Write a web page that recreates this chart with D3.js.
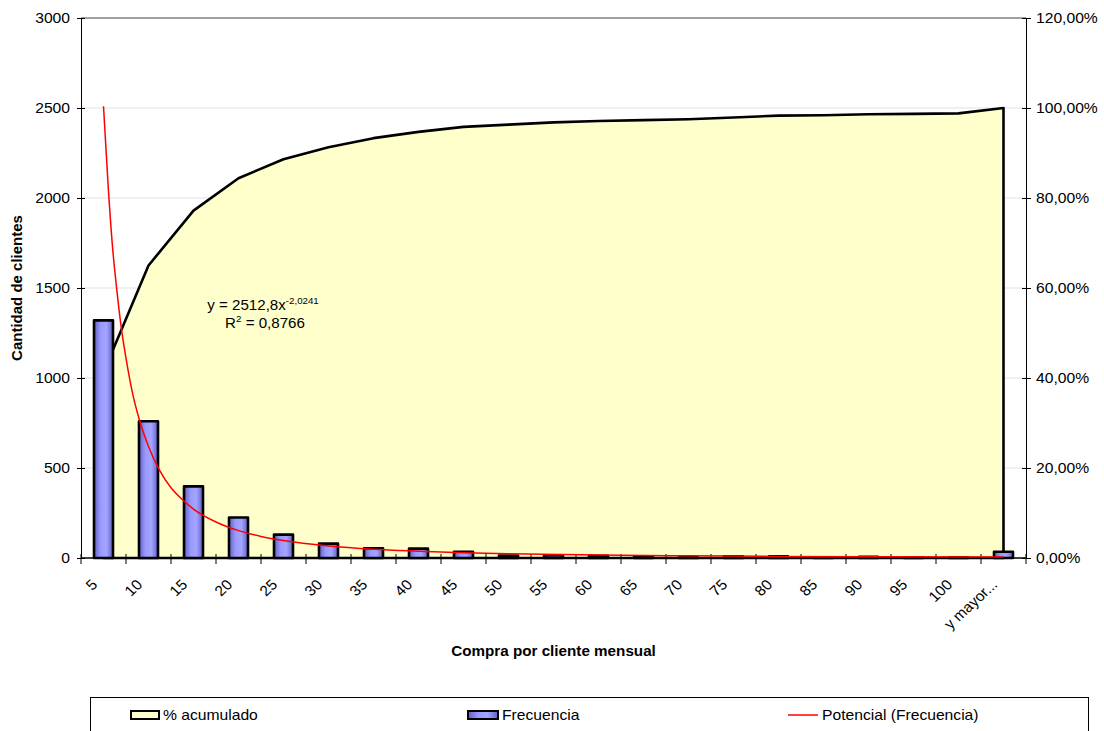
<!DOCTYPE html>
<html>
<head>
<meta charset="utf-8">
<script src="https://cdn.jsdelivr.net/npm/d3@7"></script>
<style>
body { margin: 0; background: #fff; }
svg text { font-family: "Liberation Sans", Arial, sans-serif; fill: #000; }
</style>
</head>
<body>
<div id="chart"></div>
<script>

// Data
const categories = ["5", "10", "15", "20", "25", "30", "35", "40", "45", "50",
  "55", "60", "65", "70", "75", "80", "85", "90", "95", "100", "y mayor..."];
const frecuencia = [1320, 760, 398, 225, 130, 80, 54, 52, 35, 14,
  15, 12, 5, 4, 10, 9, 3, 6, 3, 4, 35];
// % acumulado (right axis, percent)
const acumulado = [41.3, 65.0, 77.2, 84.4, 88.6, 91.3, 93.3, 94.7, 95.8, 96.3,
  96.8, 97.1, 97.3, 97.5, 97.9, 98.3, 98.4, 98.6, 98.7, 98.8, 100];
// Potencial (Frecuencia) trend line, position in category units / value
const trendPos = [1, 1.1, 1.2, 1.3, 1.4, 1.5, 1.65, 1.8, 2, 2.25, 2.5, 2.75, 3,
  3.5, 4, 4.5, 5, 6, 7, 8, 9, 10, 12, 14, 16, 18, 21];
const trendVal = [2510, 2080, 1730, 1480, 1270, 1110, 910, 765, 620, 485, 390, 325, 272,
  200, 152, 120, 97, 67, 49, 38, 29, 24, 16, 12, 9, 7, 5];
const leftTicks = [0, 500, 1000, 1500, 2000, 2500, 3000];
const rightTicks = [0, 20, 40, 60, 80, 100, 120];

const equationMain = "y = 2512,8x";
const equationExp = "-2,0241";
const r2Text = " = 0,8766";

// Dimensions
const width = 1104;
const height = 731;
const margin = {left: 81, right: 78, top: 18, bottom: 173};
const fs = 14.5;      // font size
const sx = 1.08;      // horizontal stretch of the text in the picture

const svg = d3.select("#chart")
  .append("svg")
  .attr("width", width)
  .attr("height", height);

svg.append("rect").attr("width", width).attr("height", height).attr("fill", "#fff");

// Bar gradient
const grad = svg.append("defs").append("linearGradient")
  .attr("id", "barGrad")
  .attr("x1", "0%").attr("x2", "100%").attr("y1", "0%").attr("y2", "0%");
grad.append("stop").attr("offset", "0%").attr("stop-color", "#5f5fc4");
grad.append("stop").attr("offset", "35%").attr("stop-color", "#9a9aff");
grad.append("stop").attr("offset", "65%").attr("stop-color", "#a4a4ff");
grad.append("stop").attr("offset", "100%").attr("stop-color", "#5f5fc4");

/*
  Scales
*/
const xScale = d3.scaleBand()
  .domain(categories)
  .range([margin.left, width - margin.right])
  .padding(0);
const bw = xScale.bandwidth();
const cx = (c) => xScale(c) + bw / 2;

const yLeft = d3.scaleLinear()
  .domain([0, 3000])
  .range([height - margin.bottom, margin.top]);

const yRight = d3.scaleLinear()
  .domain([0, 120])
  .range([height - margin.bottom, margin.top]);

// category position (1..n) -> pixel, for the trend line
const xPos = d3.scaleLinear()
  .domain([1, categories.length])
  .range([cx(categories[0]), cx(categories[categories.length - 1])]);

/*
  Gridlines
*/
svg.append("g")
  .selectAll("line")
  .data(leftTicks.filter(d => d > 0))
  .enter()
  .append("line")
  .attr("x1", margin.left)
  .attr("x2", width - margin.right)
  .attr("y1", d => yLeft(d))
  .attr("y2", d => yLeft(d))
  .attr("stroke", d => d === 3000 ? "#808080" : "#e2e2e2")
  .attr("stroke-width", d => d === 3000 ? 1.5 : 1);

/*
  % acumulado area
*/
const area = d3.area()
  .x((d, i) => cx(categories[i]))
  .y0(yRight(0))
  .y1(d => yRight(d));

svg.append("path")
  .datum(acumulado)
  .attr("d", area)
  .attr("fill", "#ffffcc")
  .attr("stroke", "#000")
  .attr("stroke-width", 2.6)
  .attr("stroke-linejoin", "round");

/*
  Frecuencia bars
*/
const barW = 19;
svg.selectAll(".bar")
  .data(frecuencia)
  .enter()
  .append("rect")
  .attr("class", "bar")
  .attr("x", (d, i) => cx(categories[i]) - barW / 2)
  .attr("y", d => yLeft(d))
  .attr("width", barW)
  .attr("height", d => yLeft(0) - yLeft(d))
  .attr("fill", "url(#barGrad)")
  .attr("stroke", "#000")
  .attr("stroke-width", 2.6)
  .attr("stroke-linejoin", "round");

/*
  Axes
*/
// left axis
const gLeft = svg.append("g")
  .attr("transform", `translate(${margin.left},0)`)
  .call(d3.axisLeft(yLeft).tickValues(leftTicks).tickSize(4).tickSizeOuter(0).tickPadding(0)
    .tickFormat(d3.format("d")))
  .attr("font-family", null)
  .attr("font-size", fs);
gLeft.select(".domain").attr("stroke", "#000");
gLeft.selectAll(".tick line").attr("x1", 4).attr("stroke", "#000");
gLeft.selectAll(".tick text")
  .attr("x", -11 / sx)
  .attr("transform", `scale(${sx},1)`);

// right axis
const gRight = svg.append("g")
  .attr("transform", `translate(${width - margin.right},0)`)
  .call(d3.axisRight(yRight).tickValues(rightTicks).tickSize(5).tickSizeOuter(0).tickPadding(0)
    .tickFormat(d => d.toFixed(2).replace(".", ",") + "%"))
  .attr("font-family", null)
  .attr("font-size", fs);
gRight.select(".domain").attr("stroke", "#000");
gRight.selectAll(".tick line").attr("x1", -4).attr("stroke", "#000");
gRight.selectAll(".tick text")
  .attr("x", 10 / sx)
  .attr("transform", `scale(${sx},1)`);

// bottom axis (ticks sit between the categories)
const y0 = yLeft(0);
svg.append("line")
  .attr("x1", margin.left).attr("x2", width - margin.right)
  .attr("y1", y0).attr("y2", y0)
  .attr("stroke", "#000").attr("stroke-width", 1.5);
svg.append("g")
  .selectAll("line")
  .data(d3.range(categories.length + 1))
  .enter()
  .append("line")
  .attr("x1", i => margin.left + i * xScale.step())
  .attr("x2", i => margin.left + i * xScale.step())
  .attr("y1", y0 - 4)
  .attr("y2", y0 + 6)
  .attr("stroke", "#000");

svg.append("g")
  .selectAll("text")
  .data(categories)
  .enter()
  .append("text")
  .attr("transform", d => `translate(${cx(d) - 9},${y0 + 24}) scale(${sx},1) rotate(-45)`)
  .attr("text-anchor", "end")
  .attr("dy", "0.35em")
  .attr("font-size", fs)
  .text(d => d);

/*
  Trend line
*/
const trend = d3.line()
  .x(d => xPos(d[0]))
  .y(d => yLeft(d[1]))
  .curve(d3.curveMonotoneX);

svg.append("path")
  .datum(trendPos.map((p, i) => [p, trendVal[i]]))
  .attr("d", trend)
  .attr("fill", "none")
  .attr("stroke", "#ff0000")
  .attr("stroke-width", 1.5);

/*
  Titles and equation
*/
svg.append("text")
  .attr("transform", `translate(22,${(margin.top + y0) / 2}) rotate(-90)`)
  .attr("text-anchor", "middle")
  .attr("font-size", 15)
  .attr("font-weight", "bold")
  .text("Cantidad de clientes");

svg.append("text")
  .attr("transform", `translate(${(margin.left + width - margin.right) / 2},656) scale(1.05,1)`)
  .attr("text-anchor", "middle")
  .attr("font-size", fs)
  .attr("font-weight", "bold")
  .text("Compra por cliente mensual");

const eq1 = svg.append("text")
  .attr("transform", `translate(263,310) scale(${sx},1)`)
  .attr("text-anchor", "middle")
  .attr("font-size", fs - 0.5);
eq1.append("tspan").text(equationMain);
eq1.append("tspan").attr("dy", -6).attr("font-size", 9).text(equationExp);

const eq2 = svg.append("text")
  .attr("transform", `translate(265,328) scale(${sx},1)`)
  .attr("text-anchor", "middle")
  .attr("font-size", fs - 0.5);
eq2.append("tspan").text("R");
eq2.append("tspan").attr("dy", -6).attr("font-size", 9).text("2");
eq2.append("tspan").attr("dy", 6).text(r2Text);

/*
  Legend
*/
const leg = svg.append("g");
leg.append("rect")
  .attr("x", 90.5).attr("y", 697.5)
  .attr("width", 998).attr("height", 50)
  .attr("fill", "#fff").attr("stroke", "#000");

const ly = 715;
leg.append("rect").attr("x", 131).attr("y", ly - 4).attr("width", 28).attr("height", 8)
  .attr("fill", "#ffffcc").attr("stroke", "#000").attr("stroke-width", 2);
leg.append("text").attr("transform", `translate(163,${ly}) scale(${sx},1)`)
  .attr("dy", "0.35em").attr("font-size", fs).text("% acumulado");

leg.append("rect").attr("x", 468).attr("y", ly - 4).attr("width", 30).attr("height", 8)
  .attr("fill", "url(#barGrad)").attr("stroke", "#000").attr("stroke-width", 2);
leg.append("text").attr("transform", `translate(502,${ly}) scale(${sx},1)`)
  .attr("dy", "0.35em").attr("font-size", fs).text("Frecuencia");

leg.append("line").attr("x1", 788).attr("x2", 818).attr("y1", ly).attr("y2", ly)
  .attr("stroke", "#ff0000").attr("stroke-width", 1.5);
leg.append("text").attr("transform", `translate(822,${ly}) scale(${sx},1)`)
  .attr("dy", "0.35em").attr("font-size", fs).text("Potencial (Frecuencia)");

</script>
</body>
</html>
